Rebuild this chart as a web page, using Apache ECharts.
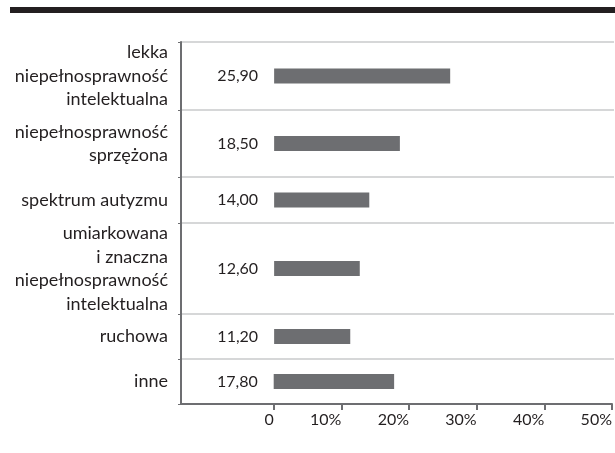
<!DOCTYPE html>
<html>
<head>
<meta charset="utf-8">
<script src="https://cdn.jsdelivr.net/npm/echarts@6/dist/echarts.min.js"></script>
<style>html,body{margin:0;padding:0;background:#fff}#c{width:615px;height:453px}</style>
</head>
<body>
<div id="c"></div>
<script>
// ---- data ----
const categories = [
  "lekka\nniepełnosprawność\nintelektualna",
  "niepełnosprawność\nsprzężona",
  "spektrum autyzmu",
  "umiarkowana\ni znaczna\nniepełnosprawność\nintelektualna",
  "ruchowa",
  "inne"
];
const values = [25.9, 18.5, 14.0, 12.6, 11.2, 17.8];
const tickValues = [0, 10, 20, 30, 40, 50];
const tickLabels = ["0", "10%", "20%", "30%", "40%", "50%"];

// ---- layout (row edges in px) ----
const rowEdges = [42, 110, 177, 223, 314, 359, 404];
const TEXT = '#231f20', AXIS = '#6d6e71', GRIDC = '#d6d7d8', BAR = '#6d6e71';
const FONT = 'Lato';
const XMIN = -13.7, XMAX = 50;

const grids = [], xAxes = [], yAxes = [], series = [];
categories.forEach((cat, i) => {
  const last = i === categories.length - 1;
  grids.push({ left: 181, right: 1, top: rowEdges[i], height: rowEdges[i+1] - rowEdges[i], containLabel: false });
  xAxes.push({
    type: 'value', gridIndex: i, min: XMIN, max: XMAX,
    axisLine: { show: last, onZero: false, lineStyle: { color: AXIS, width: 2 } },
    axisTick: { show: last, length: 6, lineStyle: { color: AXIS, width: 2 }, customValues: tickValues },
    axisLabel: {
      show: last, customValues: tickValues, align: 'right', margin: 8,
      fontFamily: FONT, fontSize: 16, color: TEXT,
      formatter: v => { const k = tickValues.indexOf(v); return k >= 0 ? tickLabels[k] : ''; }
    },
    splitLine: { show: false }
  });
  yAxes.push({
    type: 'category', gridIndex: i, data: [cat],
    axisLine: { show: true, onZero: false, lineStyle: { color: AXIS, width: 2 } },
    axisTick: { show: true, length: 3, lineStyle: { color: AXIS, width: 1 } },
    axisLabel: { fontFamily: FONT, fontSize: 18, color: TEXT, lineHeight: 23.5, align: 'right', margin: 13 },
    splitLine: { show: true, lineStyle: { color: GRIDC, width: 2 } }
  });
  series.push({
    type: 'bar', xAxisIndex: i, yAxisIndex: i, data: [values[i]], barWidth: 15,
    itemStyle: { color: BAR },
    label: {
      show: true, position: 'left', distance: 16,
      fontFamily: FONT, fontSize: 16, color: TEXT,
      formatter: p => p.value.toFixed(2).replace('.', ',')
    },
    silent: true, animation: false
  });
});

const chart = echarts.init(document.getElementById('c'), null, { renderer: 'canvas' });
chart.setOption({
  animation: false,
  textStyle: { fontFamily: FONT },
  grid: grids, xAxis: xAxes, yAxis: yAxes, series: series,
  graphic: [{ type: 'rect', left: 10, top: 7, shape: { width: 605, height: 6 }, style: { fill: TEXT } }]
});
</script>
</body>
</html>
